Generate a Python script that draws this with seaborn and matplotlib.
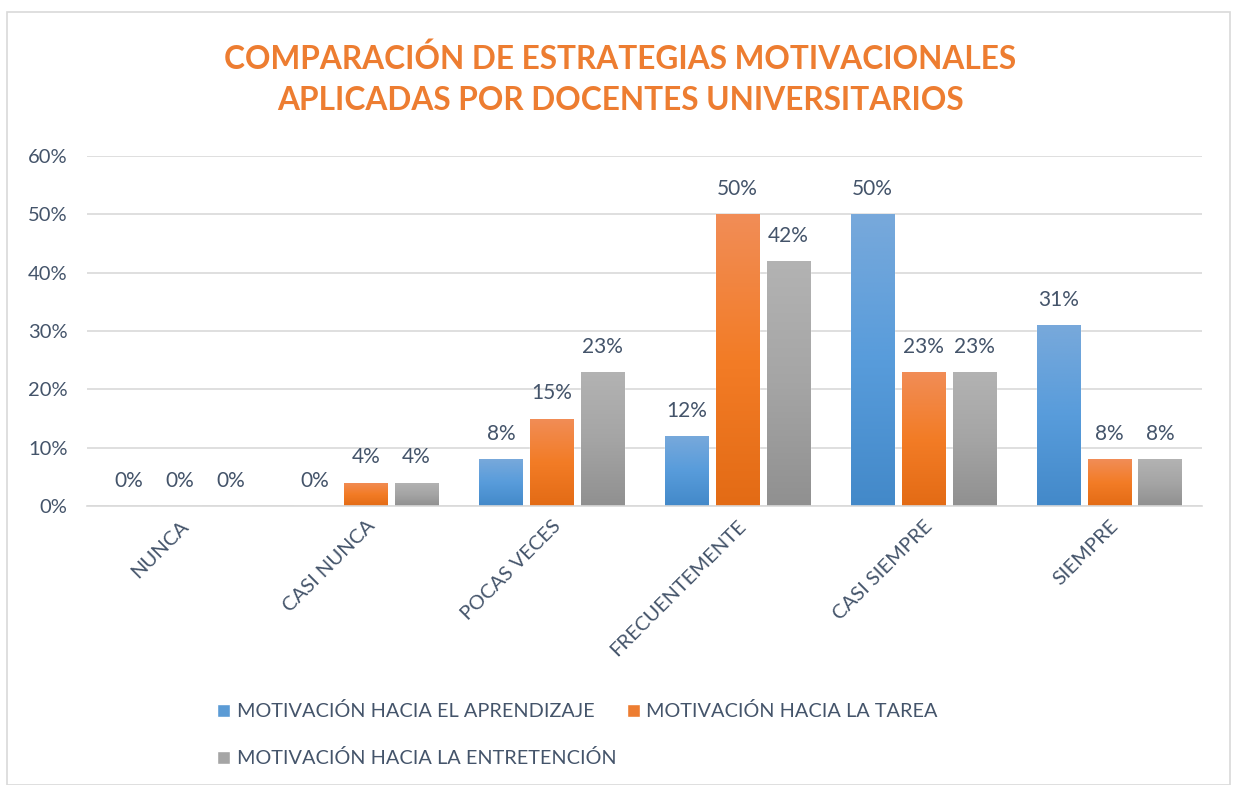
import numpy as np
import pandas as pd
import matplotlib
matplotlib.use("Agg")
import matplotlib.pyplot as plt
from matplotlib.colors import LinearSegmentedColormap
from matplotlib.patches import Rectangle, Patch
import seaborn as sns

categories = ["NUNCA", "CASI NUNCA", "POCAS VECES", "FRECUENTEMENTE", "CASI SIEMPRE", "SIEMPRE"]
series_names = ["MOTIVACIÓN HACIA EL APRENDIZAJE", "MOTIVACIÓN HACIA LA TAREA",
                "MOTIVACIÓN HACIA LA ENTRETENCIÓN"]
aprendizaje = [0.00, 0.00, 0.08, 0.12, 0.50, 0.31]
tarea = [0.00, 0.04, 0.15, 0.50, 0.23, 0.08]
entretencion = [0.00, 0.04, 0.23, 0.42, 0.23, 0.08]
yticks = [0, 0.1, 0.2, 0.3, 0.4, 0.5, 0.6]

# gradient stops per series (top, middle, bottom) like the Excel fill
grad = {
    series_names[0]: ["#78A9DB", "#589CDB", "#4389C9"],
    series_names[1]: ["#F18D57", "#F37C26", "#E36B15"],
    series_names[2]: ["#B3B3B3", "#A5A5A5", "#909090"],
}
base_colors = ["#5B9BD5", "#ED7D31", "#A5A5A5"]
text_col = "#44546A"

df = pd.DataFrame({
    "categoria": categories * 3,
    "valor": aprendizaje + tarea + entretencion,
    "serie": [series_names[0]] * 6 + [series_names[1]] * 6 + [series_names[2]] * 6,
})

sns.set_theme(style="white")
plt.rcParams['font.family'] = ['Lato', 'DejaVu Sans']

fig = plt.figure(figsize=(12.38, 7.85), dpi=100)
ax = fig.add_axes([0.0703, 0.3554, 0.9007, 0.4459])

sns.barplot(data=df, x="categoria", y="valor", hue="serie", order=categories,
            hue_order=series_names, palette=base_colors, width=0.82, gap=0.15,
            ax=ax, legend=False, errorbar=None)

ax.set_yticks(yticks)
ax.set_yticklabels([f"{int(round(t * 100))}%" for t in yticks])
ax.yaxis.grid(True, color="#D9D9D9", linewidth=1.2)
ax.set_axisbelow(True)
for s in ["top", "right", "left"]:
    ax.spines[s].set_visible(False)
ax.spines["bottom"].set_color("#D9D9D9")
ax.spines["bottom"].set_linewidth(1.2)
ax.set_xlabel("")
ax.set_ylabel("")
ax.tick_params(axis="y", length=0, pad=14, labelsize=14.5, labelcolor=text_col)
ax.tick_params(axis="x", length=0, pad=8, labelsize=14.5, labelcolor=text_col)
plt.setp(ax.get_xticklabels(), rotation=45, ha="right", rotation_mode="anchor")

# gradient fill on each bar
for cont, name in zip(ax.containers, series_names):
    cmap = LinearSegmentedColormap.from_list(name, grad[name][::-1])
    for bar in cont:
        h = bar.get_height()
        if h <= 0:
            continue
        x0 = bar.get_x()
        w = bar.get_width()
        img = ax.imshow(np.linspace(0, 1, 256).reshape(-1, 1), cmap=cmap, aspect="auto",
                        origin="lower", extent=[x0, x0 + w, 0, h], zorder=bar.get_zorder() + 0.1)
        img.set_clip_path(bar)
    labels = [f"{v * 100:.0f}%" for v in cont.datavalues]
    ax.bar_label(cont, labels=labels, padding=11, fontsize=15, color=text_col)
ax.set_xlim(-0.5, len(categories) - 0.5)
ax.set_ylim(0, 0.6)

fig.text(0.5008, 0.899, "COMPARACIÓN DE ESTRATEGIAS MOTIVACIONALES\nAPLICADAS POR DOCENTES UNIVERSITARIOS",
         ha="center", va="center", fontsize=22.8, fontweight="bold", color="#ED7D31",
         linespacing=1.5)

handles = [Patch(facecolor=base_colors[i], label=series_names[i]) for i in range(3)]
order = [0, 2, 1]
leg = fig.legend([handles[i] for i in order], [series_names[i] for i in order], ncol=2,
                 loc="upper left", bbox_to_anchor=(0.161, 0.128), frameon=False,
                 fontsize=14.3, labelcolor=text_col, handlelength=0.65, handleheight=0.65,
                 handletextpad=0.35, columnspacing=0.5, labelspacing=1.45)

fig.patches.append(Rectangle((7 / 1238, 0), 1223 / 1238, 1 - 12 / 785, transform=fig.transFigure,
                             fill=False, edgecolor="#D9D9D9", linewidth=1.2))

fig.savefig("out.png", dpi=100, facecolor="white")
